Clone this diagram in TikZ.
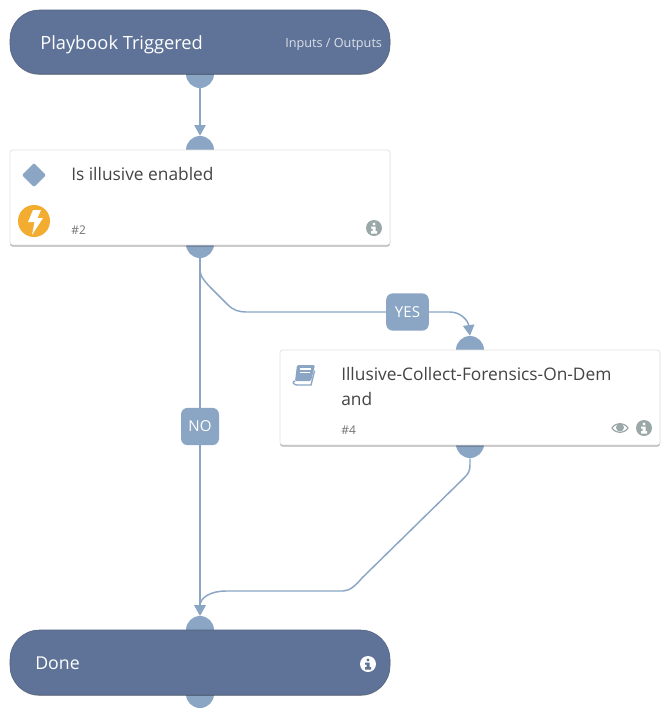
\documentclass[tikz,border=0pt]{standalone}
\usepackage{fontspec}
\setmainfont{Open Sans}
\usetikzlibrary{arrows.meta,shadows}
\definecolor{pill}{HTML}{5F7398}
\definecolor{port}{HTML}{8AA6C4}
\definecolor{amber}{HTML}{F2AC30}
\definecolor{infogray}{HTML}{9BA8A8}
\definecolor{ink}{HTML}{444444}
\tikzset{
  x=0.75pt,y=-0.75pt,
  portnode/.style={circle,fill=port,minimum size=21pt,inner sep=0pt},
  pillbox/.style={rounded corners=22pt,fill=pill,draw=pill!85!black,line width=.4pt,
    drop shadow={shadow xshift=0pt,shadow yshift=-.6pt,opacity=.35,fill=black}},
  cardbox/.style={rounded corners=2pt,fill=white,draw=black!12,line width=.5pt,
    drop shadow={shadow xshift=0pt,shadow yshift=-1.2pt,opacity=.3,fill=black}},
  flow/.style={draw=port,line width=1.1pt,-{Triangle[length=8pt,width=8.5pt,fill=port]}},
  flowplain/.style={draw=port,line width=1.1pt},
  tag/.style={fill=port,rounded corners=5pt,text=white,font=\fontsize{11.3}{13}\selectfont,
    inner sep=0pt},
  txt/.style={anchor=base west,inner sep=0pt},
  title/.style={txt,text=white,font=\fontsize{13.7}{16}\selectfont},
  body/.style={txt,text=ink,font=\fontsize{13}{15}\selectfont},
  num/.style={txt,text=black!55,font=\fontsize{9}{11}\selectfont},
}
\begin{document}
\begin{tikzpicture}
\useasboundingbox (0,0) rectangle (670,719);
\fill[white] (0,0) rectangle (670,719);

% ports
\node[portnode] (p1b) at (200,74) {};
\node[portnode] (p2t) at (200,150) {};
\node[portnode] (p2b) at (200,244) {};
\node[portnode] (p4t) at (470,350) {};
\node[portnode] (p4b) at (470,444) {};
\node[portnode] (p5t) at (200,630) {};
\node[portnode] (p5b) at (200,694) {};

% connectors
\coordinate (yesA) at (246,312);
\coordinate (yesB) at (450,312);
\coordinate (retA) at (343,591);
\coordinate (retB) at (226,591);
\draw[flow] (p1b.south) -- (p2t.north);
\draw[flow] (p2b.south) -- (p5t.north);
\draw[flowplain] (p2b.south) -- ++(0,12) .. controls (200,276) and (205,282) .. (212,289)
   -- (228,305) .. controls (233,310) and (239,312) .. (yesA) -- (yesB);
\draw[flow] (yesB) .. controls (460,312) and (468,320) .. (p4t.north);
\draw[flowplain] (p4b.south) -- ++(0,6) .. controls (470,472) and (468,474) .. (463,479)
   -- (362,578) .. controls (356,585) and (350,591) .. (retA) -- (retB);
\draw[flow] (retB) .. controls (210,591) and (200,598) .. (p5t.north);

% boxes
\draw[pillbox] (10,10) rectangle (390,74);
\node[title] (t1) at (40,49) {Playbook Triggered};
\node[txt,text=white!78!pill,font=\fontsize{9.5}{11}\selectfont] (t1b) at (285,47.5) {Inputs / Outputs};

\draw[cardbox] (10,150) rectangle (390,245);
\node[body] (t2) at (71,180) {Is illusive enabled};
\node[num] (n2) at (71,234) {\#2};

\draw[cardbox] (280,350) rectangle (660,445);
\node[body] (t4) at (341,380) {Illusive-Collect-Forensics-On-Dem};
\node[body] (t4b) at (341,405) {and};
\node[num] (n4) at (341,434) {\#4};

\draw[pillbox] (10,630) rectangle (390,695);
\node[title,font=\fontsize{13.3}{16}\selectfont] (t5) at (35,669) {Done};

% labels on connectors
\node[tag,minimum width=32pt,minimum height=28pt] (yes) at (407.5,312) {YES};
\node[tag,minimum width=28.5pt,minimum height=28pt] (no) at (200,426.5) {NO};

% diamond icon
\fill[port,rounded corners=1pt] (34,163) -- (46,175) -- (34,187) -- (22,175) -- cycle;

% lightning badge
\fill[amber] (34,221) circle (12pt);
\fill[white] (33,210) -- (41,210) -- (37.5,218) -- (43,218) -- (32,235) -- (34.5,222) -- (28,222) -- cycle;

% info icons
\foreach \cx/\cy/\bg/\fg in {374/228/infogray/white,644/428/infogray/white,368/664/white/pill}{
  \fill[\bg] (\cx,\cy) circle (6pt);
  \fill[\fg] (\cx,\cy-4) circle (1.3pt);
  \fill[\fg] (\cx-3,\cy-1.5) -- (\cx+1.5,\cy-1.5) -- (\cx+1.5,\cy+3) -- (\cx+3,\cy+3) -- (\cx+3,\cy+5.5)
     -- (\cx-3,\cy+5.5) -- (\cx-3,\cy+3) -- (\cx-1.5,\cy+3) -- (\cx-1.5,\cy+.5) -- (\cx-3,\cy+.5) -- cycle;
}

% eye icon
\draw[infogray,line width=.9pt] (612,428) .. controls (616,422) and (624,422) .. (628,428)
   .. controls (624,434) and (616,434) .. cycle;
\fill[infogray] (620,427.5) circle (3pt);

% book icon
\fill[port,rounded corners=1pt] (297,365) -- (315,365) -- (311,381) -- (295,381) -- cycle;
\draw[port,line width=1pt,line cap=round] (314.5,371) -- (311,385) -- (297,385) .. controls (293,385) and (292,381) .. (295,381);
\draw[white,line width=.8pt] (300,369) -- (311,369) (299.5,372.5) -- (310,372.5);
\end{tikzpicture}
\end{document}
